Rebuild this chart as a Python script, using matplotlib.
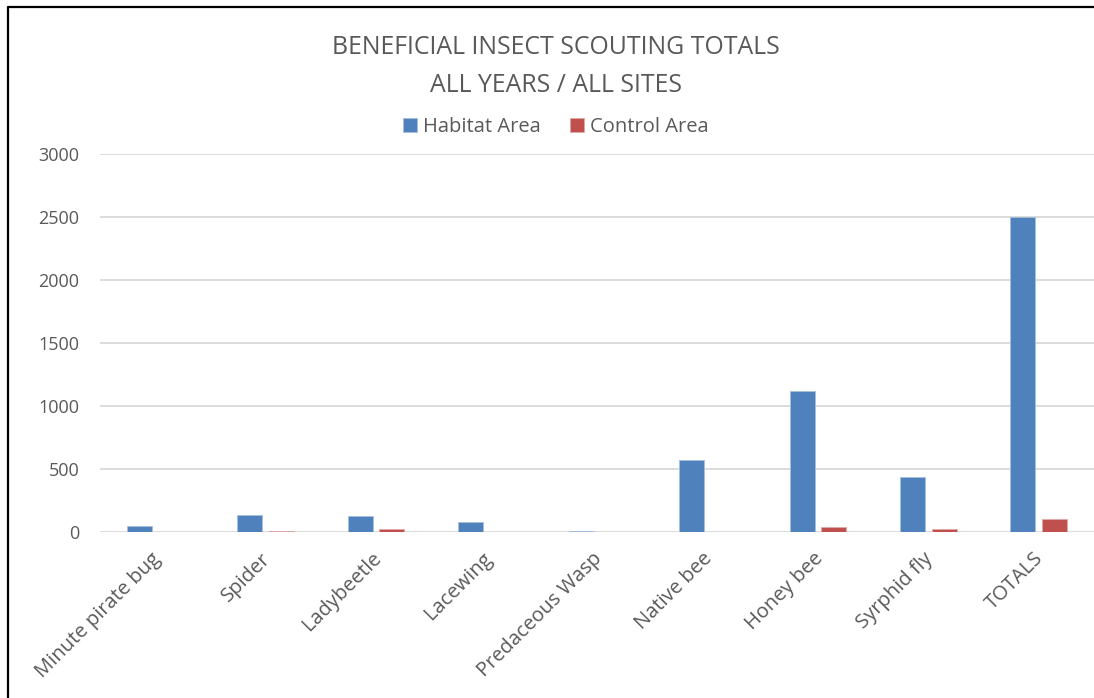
import numpy as np
import matplotlib
matplotlib.use("Agg")
import matplotlib.pyplot as plt
from matplotlib.lines import Line2D
from matplotlib.transforms import ScaledTranslation

categories = ["Minute pirate bug", "Spider", "Ladybeetle", "Lacewing",
              "Predaceous Wasp", "Native bee", "Honey bee", "Syrphid fly", "TOTALS"]
habitat = [50, 135, 129, 79, 4, 571, 1117, 434, 2502]
control = [0, 5, 24, 0, 0, 0, 40, 21, 103]
series_names = ["Habitat Area", "Control Area"]
yticks = [0, 500, 1000, 1500, 2000, 2500, 3000]

blue = "#4F81BD"
red = "#C0504D"
text_gray = "#595959"

plt.rcParams["font.family"] = ["Open Sans", "DejaVu Sans"]

fig = plt.figure(figsize=(10.94, 6.98), dpi=100)
ax = fig.add_axes([100 / 1094, 1 - 532 / 698, 994 / 1094, 378 / 698])

x = np.arange(len(categories))
w = 0.226
off = 0.1435
ax.bar(x - off, habitat, w, color=blue, edgecolor="#A7BFDE", linewidth=0.6,
       label=series_names[0], zorder=3)
ax.bar(x + off, control, w, color=red, edgecolor="#E0A9A7", linewidth=0.6,
       label=series_names[1], zorder=3)

ax.set_xlim(-0.5, len(categories) - 0.5)
ax.set_ylim(0, 3000)
ax.set_yticks(yticks)
ax.yaxis.grid(True, color="#D9D9D9", linewidth=1.3, zorder=0)
ax.set_axisbelow(True)
for s in ax.spines.values():
    s.set_visible(False)
ax.tick_params(axis="both", length=0, colors=text_gray)
ax.tick_params(axis="y", pad=15, labelsize=13)
ax.tick_params(axis="x", pad=12, labelsize=14.5)
ax.set_xticks(x)
ax.set_xticklabels(categories, rotation=45, ha="right", rotation_mode="anchor")
shift = ScaledTranslation(-5 / 100, 0, fig.dpi_scale_trans)
for lab in ax.get_xticklabels():
    lab.set_transform(lab.get_transform() + shift)

title_x = 556 / 1094
fig.text(title_x, 1 - 47 / 698, "BENEFICIAL INSECT SCOUTING TOTALS", ha="center", va="center",
         fontsize=17.9, color=text_gray)
fig.text(title_x, 1 - 85 / 698, "ALL YEARS / ALL SITES", ha="center", va="center",
         fontsize=17.9, color=text_gray)

fig.legend(loc="center", bbox_to_anchor=(556 / 1094, 1 - 127 / 698), ncol=2, frameon=False,
           fontsize=14.5, labelcolor=text_gray, handlelength=0.7, handleheight=0.7,
           handletextpad=0.3, columnspacing=1.45)

# outer chart frame
fig.add_artist(Line2D([8 / 1094, 8 / 1094, 1.0], [0.0, 1 - 7 / 698, 1 - 7 / 698],
                      transform=fig.transFigure, color="black", linewidth=1.6))

fig.savefig("out.png", dpi=100)
